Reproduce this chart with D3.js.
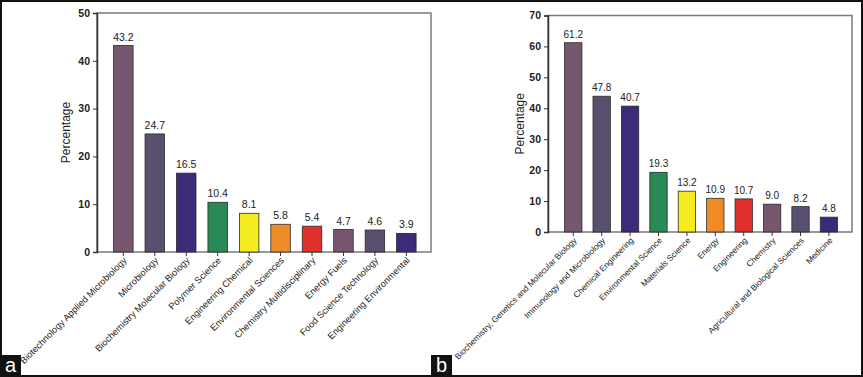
<!DOCTYPE html>
<html lang="en">
<head>
    <meta charset="UTF-8">
    <title>Subject categories</title>
    <script src="https://d3js.org/d3.v7.min.js"></script>
    <style>
        body { margin: 0; background: #fff; }
        text { font-family: "Liberation Sans", Arial, sans-serif; fill: #222; }
    </style>
</head>
<body>
    <div id="chart"></div>
    <script>
        // Panel a data (Web of Science categories)
        const catsA = ["Biotechnology Applied Microbiology", "Microbiology", "Biochemistry Molecular Biology",
            "Polymer Science", "Engineering Chemical", "Environmental Sciences", "Chemistry Multidisciplinary",
            "Energy Fuels", "Food Science Technology", "Engineering Environmental"];
        const valsA = [43.2, 24.7, 16.5, 10.4, 8.1, 5.8, 5.4, 4.7, 4.6, 3.9];
        const labelsA = ["43.2", "24.7", "16.5", "10.4", "8.1", "5.8", "5.4", "4.7", "4.6", "3.9"];

        // Panel b data (Scopus subject areas); the second bar is drawn shorter than its printed label
        const catsB = ["Biochemistry, Genetics and Molecular Biology", "Immunology and Microbiology",
            "Chemical Engineering", "Environmental Science", "Materials Science", "Energy", "Engineering",
            "Chemistry", "Agricultural and Biological Sciences", "Medicine"];
        const valsB = [61.2, 43.9, 40.7, 19.3, 13.2, 10.9, 10.7, 9.0, 8.2, 4.8];
        const labelsB = ["61.2", "47.8", "40.7", "19.3", "13.2", "10.9", "10.7", "9.0", "8.2", "4.8"];

        const barColors = ["#775770", "#58506e", "#3d2a78", "#2a8a55", "#f4ec1e",
            "#f08c28", "#e0302c", "#775770", "#58506e", "#3d2a78"];

        const width = 863;
        const height = 377;

        const svg = d3.select("#chart")
            .append("svg")
            .attr("width", width)
            .attr("height", height);

        svg.append("rect")
            .attr("width", width).attr("height", height)
            .attr("fill", "#fff");

        function drawPanel(opt) {
            const g = svg.append("g");

            const y = d3.scaleLinear()
                .domain([0, opt.yMax])
                .range([opt.bottom, opt.top]);

            const x = d3.scaleBand()
                .domain(opt.cats)
                .range(opt.bandRange)
                .paddingInner(opt.pad)
                .paddingOuter(0);

            // plot frame (top/right/bottom in grey)
            g.append("rect")
                .attr("x", opt.left)
                .attr("y", opt.top)
                .attr("width", opt.right - opt.left)
                .attr("height", opt.bottom - opt.top)
                .attr("fill", "none")
                .attr("stroke", "#7a7a7a")
                .attr("stroke-width", 1.5);

            // bars
            g.selectAll(".bar")
                .data(opt.vals)
                .enter()
                .append("rect")
                .attr("class", "bar")
                .attr("x", (d, i) => x(opt.cats[i]))
                .attr("y", d => y(d))
                .attr("width", x.bandwidth())
                .attr("height", d => y(0) - y(d))
                .attr("fill", (d, i) => barColors[i])
                .attr("stroke", "#2a2a2a")
                .attr("stroke-width", 0.8);

            // value labels
            g.selectAll(".val")
                .data(opt.vals)
                .enter()
                .append("text")
                .attr("class", "val")
                .attr("x", (d, i) => x(opt.cats[i]) + x.bandwidth() / 2)
                .attr("y", d => y(d) - 5)
                .attr("text-anchor", "middle")
                .attr("font-size", opt.valSize)
                .text((d, i) => opt.labels[i]);

            // y axis
            const yAxis = g.append("g")
                .attr("transform", `translate(${opt.left},0)`)
                .call(d3.axisLeft(y).ticks(opt.yMax / 10).tickSize(4).tickPadding(3));
            yAxis.select(".domain").attr("stroke", "#333").attr("stroke-width", 1.5);
            yAxis.selectAll(".tick line").attr("stroke", "#333");
            yAxis.selectAll(".tick text")
                .attr("font-size", 10.5)
                .attr("font-weight", "bold")
                .attr("fill", "#333")
                .style("font-family", "'Liberation Sans', Arial, sans-serif");

            // x axis ticks at bar centres
            const xAxis = g.append("g")
                .attr("transform", `translate(0,${opt.bottom})`)
                .call(d3.axisBottom(x).tickSize(4).tickFormat(""));
            xAxis.select(".domain").remove();
            xAxis.selectAll(".tick line").attr("stroke", "#333");

            // rotated category labels
            g.selectAll(".cat")
                .data(opt.cats)
                .enter()
                .append("text")
                .attr("class", "cat")
                .attr("text-anchor", "end")
                .attr("font-size", opt.catSize)
                .attr("transform", d => `translate(${x(d) + x.bandwidth() / 2 + 4},${opt.bottom + 9}) rotate(-45)`)
                .text(d => d);

            // y axis title
            g.append("text")
                .attr("transform", `translate(${opt.titleX},${(opt.top + opt.bottom) / 2}) rotate(-90)`)
                .attr("text-anchor", "middle")
                .attr("font-size", 12)
                .text("Percentage");

            // panel letter
            g.append("rect")
                .attr("x", opt.tagX)
                .attr("y", 355)
                .attr("width", 21)
                .attr("height", 21)
                .attr("fill", "#111");
            g.append("text")
                .attr("x", opt.tagX + 10.5)
                .attr("y", 372)
                .attr("text-anchor", "middle")
                .attr("font-size", 20)
                .style("fill", "#fff")
                .text(opt.tag);
        }

        drawPanel({
            cats: catsA, vals: valsA, labels: labelsA, yMax: 50,
            left: 97, right: 431, top: 13, bottom: 252,
            bandRange: [113.6, 416.1], pad: 0.38,
            valSize: 10.5, catSize: 9.3, titleX: 70, tag: "a", tagX: 0
        });

        drawPanel({
            cats: catsB, vals: valsB, labels: labelsB, yMax: 70,
            left: 548, right: 852, top: 15.5, bottom: 232,
            bandRange: [564.6, 837.6], pad: 0.39,
            valSize: 10, catSize: 8.3, titleX: 524, tag: "b", tagX: 431
        });

        // outer border
        svg.append("rect")
            .attr("x", 1).attr("y", 1)
            .attr("width", width - 2).attr("height", height - 2)
            .attr("fill", "none")
            .attr("stroke", "#111")
            .attr("stroke-width", 2);
    </script>
</body>
</html>
